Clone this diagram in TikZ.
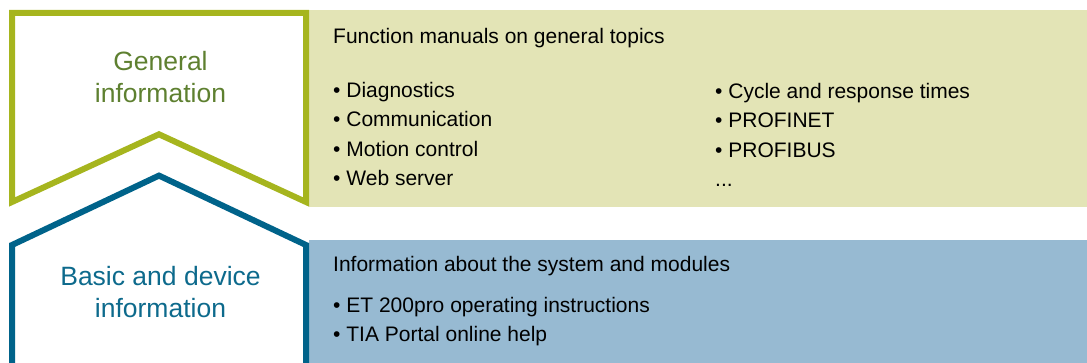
\documentclass[tikz,border=0pt]{standalone}
\usepackage{fontspec}
\setmainfont{Liberation Sans}
\definecolor{gstroke}{HTML}{A6B51E}
\definecolor{gfill}{HTML}{E3E4B6}
\definecolor{gtext}{HTML}{5E8030}
\definecolor{bstroke}{HTML}{00638A}
\definecolor{bfill}{HTML}{97BAD2}
\definecolor{btext}{HTML}{0D6A8C}
\begin{document}
\begin{tikzpicture}[x=1pt,y=-1pt,
  sidelabel/.style={font=\fontsize{26.5}{32}\selectfont, align=center, inner sep=0pt, anchor=base},
  bodytext/.style={font=\fontsize{21}{29.4}\selectfont, align=left, inner sep=0pt, anchor=base west, text=black},
  outline/.style={line width=6pt, miter limit=10}]
\useasboundingbox (0,0) rectangle (1087,363);
% panels
\fill[gfill] (309,10) rectangle (1087,207);
\fill[bfill] (309,240) rectangle (1087,363);
% chevron outlines
\draw[outline, gstroke] (12,13) -- (306,13) -- (306,202) -- (159,134.3) -- (12,202) -- cycle;
\draw[outline, bstroke] (12,372) -- (12,245) -- (159,175.6) -- (306,245) -- (306,372);
% side labels (anchor = baseline of last line)
\node[sidelabel, text=gtext] (gen) at (160.5,103) {General\\information};
\node[sidelabel, text=btext] (basic) at (160.5,317.5) {Basic and device\\information};
% general topics
\node[bodytext] (ghead) at (333,43.8) {Function manuals on general topics};
\node[bodytext] (gcol1) at (333,185.7) {• Diagnostics\\• Communication\\• Motion control\\• Web server};
\node[bodytext] (gcol2) at (715,186.5) {• Cycle and response times\\• PROFINET\\• PROFIBUS\\...};
% basic info
\node[bodytext] (bhead) at (333,272) {Information about the system and modules};
\node[bodytext] (bcol) at (333,341.4) {• ET 200pro operating instructions\\• TIA Portal online help};
\end{tikzpicture}
\end{document}
